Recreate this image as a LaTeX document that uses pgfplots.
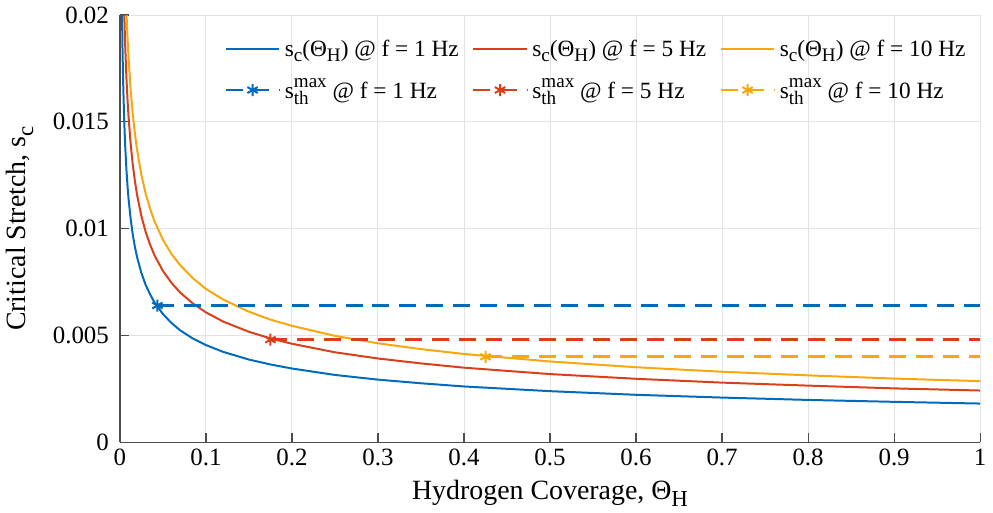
\documentclass[border=0pt]{standalone}
\usepackage{pgfplots}
\pgfplotsset{compat=1.18}
\usepackage{graphicx}
\usepackage{fontspec}
\setmainfont{Liberation Serif}

\definecolor{cblue}{rgb}{0,0.42,0.74}
\definecolor{cred}{rgb}{0.85,0.25,0.10}
\definecolor{cyel}{rgb}{0.98,0.65,0.05}

% MATLAB-like sub/superscripts (larger than \textsubscript)
\newcommand\sub[1]{\raisebox{-0.55ex}{\scalebox{0.82}{#1}}}
\newcommand\subsup[2]{\rlap{\raisebox{-0.6ex}{\scalebox{0.82}{#1}}}\raisebox{0.95ex}{\scalebox{0.82}{#2}}}

\pgfplotsset{
  curve/.style={line width=1pt, no marks},
  thresh/.style={line width=1.4pt, dash pattern=on 8.5pt off 5pt,
    mark=asterisk, mark size=3pt, mark options={solid, line width=1pt},
    mark indices={1},
    legend image code/.code={
      \draw[##1, mark indices={2}] plot coordinates {(0cm,0cm) (0.475cm,0cm) (0.95cm,0cm)};}},
}

\begin{document}
\begin{tikzpicture}
\begin{axis}[
  scale only axis, width=432pt, height=214.5pt,
  xmin=0, xmax=1, ymin=0, ymax=0.02,
  xtick={0,0.1,0.2,0.3,0.4,0.5,0.6,0.7,0.8,0.9,1},
  xticklabels={0,0.1,0.2,0.3,0.4,0.5,0.6,0.7,0.8,0.9,1},
  ytick={0,0.005,0.01,0.015,0.02},
  yticklabels={0,0.005,0.01,0.015,0.02},
  scaled y ticks=false, scaled x ticks=false,
  axis x line*=bottom, axis y line*=left,
  axis line style={line width=0.6pt, draw=black!70},
  tick align=inside, major tick length=4.5pt,
  tick style={line width=0.6pt, black!70},
  grid=major, grid style={gray!22, line width=0.5pt},
  tick label style={font=\fontsize{12.5}{14}\selectfont},
  yticklabel style={xshift=-2pt},
  label style={font=\fontsize{14}{16}\selectfont},
  xlabel={Hydrogen Coverage, Θ\sub{H}},
  ylabel={Critical Stretch, s\sub{c}},
  ylabel style={yshift=3pt},
  legend columns=3,
  legend style={draw=none, fill=none, at={(0.995,0.962)}, anchor=north east,
    font=\fontsize{11.7}{14}\selectfont, row sep=6pt,
    /tikz/every even column/.append style={column sep=4.5pt}},
  legend cell align=left,
  legend image code/.code={
    \draw[mark repeat=2, mark phase=2, #1] plot coordinates {(0cm,0cm) (0.475cm,0cm) (0.95cm,0cm)};},
]
\addplot[curve, cblue] coordinates {
(0.002,0.02174) (0.0025,0.01988) (0.003,0.01848) (0.0035,0.01740) (0.004,0.01648) (0.005,0.01507)
(0.006,0.01401) (0.0075,0.01281) (0.009,0.01191) (0.01,0.01142) (0.0125,0.01045) (0.015,0.00971)
(0.0175,0.00913) (0.02,0.00866) (0.025,0.00792) (0.03,0.00736) (0.035,0.00693) (0.04,0.00656) (0.05,0.00600)
(0.06,0.00558) (0.07,0.00524) (0.085,0.00485) (0.1,0.00455) (0.12,0.00423)
(0.15,0.00387) (0.175,0.00364) (0.2,0.00345) (0.25,0.00315) (0.3,0.00293) (0.35,0.00276) (0.4,0.00261)
(0.5,0.00239) (0.6,0.00222) (0.7,0.00209) (0.8,0.00198) (0.9,0.00189) (1.0,0.00181)};
\addlegendentry{s\sub{c}(Θ\sub{H}) @ f = 1 Hz}
\addplot[curve, cred] coordinates {
(0.004,0.02203) (0.005,0.02015) (0.006,0.01873) (0.0075,0.01713) (0.009,0.01592) (0.01,0.01527)
(0.0125,0.01397) (0.015,0.01298) (0.0175,0.01221) (0.02,0.01157) (0.025,0.01058) (0.03,0.00984)
(0.035,0.00926) (0.04,0.00877) (0.05,0.00802) (0.06,0.00746) (0.07,0.00701) (0.085,0.00649)
(0.1,0.00608) (0.12,0.00565) (0.15,0.00517) (0.175,0.00486) (0.2,0.00461) (0.25,0.00421)
(0.3,0.00392) (0.35,0.00369) (0.4,0.00349) (0.5,0.00319) (0.6,0.00297) (0.7,0.00279)
(0.8,0.00265) (0.9,0.00252) (1.0,0.00242)};
\addlegendentry{s\sub{c}(Θ\sub{H}) @ f = 5 Hz}
\addplot[curve, cyel] coordinates {
(0.006,0.02214) (0.0075,0.02025) (0.009,0.01882) (0.01,0.01805) (0.0125,0.01650) (0.015,0.01534)
(0.0175,0.01443) (0.02,0.01368) (0.025,0.01251) (0.03,0.01163) (0.035,0.01095) (0.04,0.01036) (0.05,0.00948)
(0.06,0.00881) (0.07,0.00829) (0.085,0.00767) (0.1,0.00718) (0.12,0.00668)
(0.15,0.00611) (0.175,0.00574) (0.2,0.00545) (0.25,0.00498) (0.3,0.00463) (0.35,0.00436) (0.4,0.00413)
(0.5,0.00378) (0.6,0.00351) (0.7,0.00330) (0.8,0.00313) (0.9,0.00298) (1.0,0.00286)};
\addlegendentry{s\sub{c}(Θ\sub{H}) @ f = 10 Hz}
\addplot[thresh, cblue] coordinates {(0.0436,0.0064) (1.0,0.0064)};
\addlegendentry{s\subsup{th}{max} @ f = 1 Hz}
\addplot[thresh, cred] coordinates {(0.175,0.0048) (1.0,0.0048)};
\addlegendentry{s\subsup{th}{max} @ f = 5 Hz}
\addplot[thresh, cyel] coordinates {(0.425,0.0040) (1.0,0.0040)};
\addlegendentry{s\subsup{th}{max} @ f = 10 Hz}
\end{axis}
\end{tikzpicture}
\end{document}
